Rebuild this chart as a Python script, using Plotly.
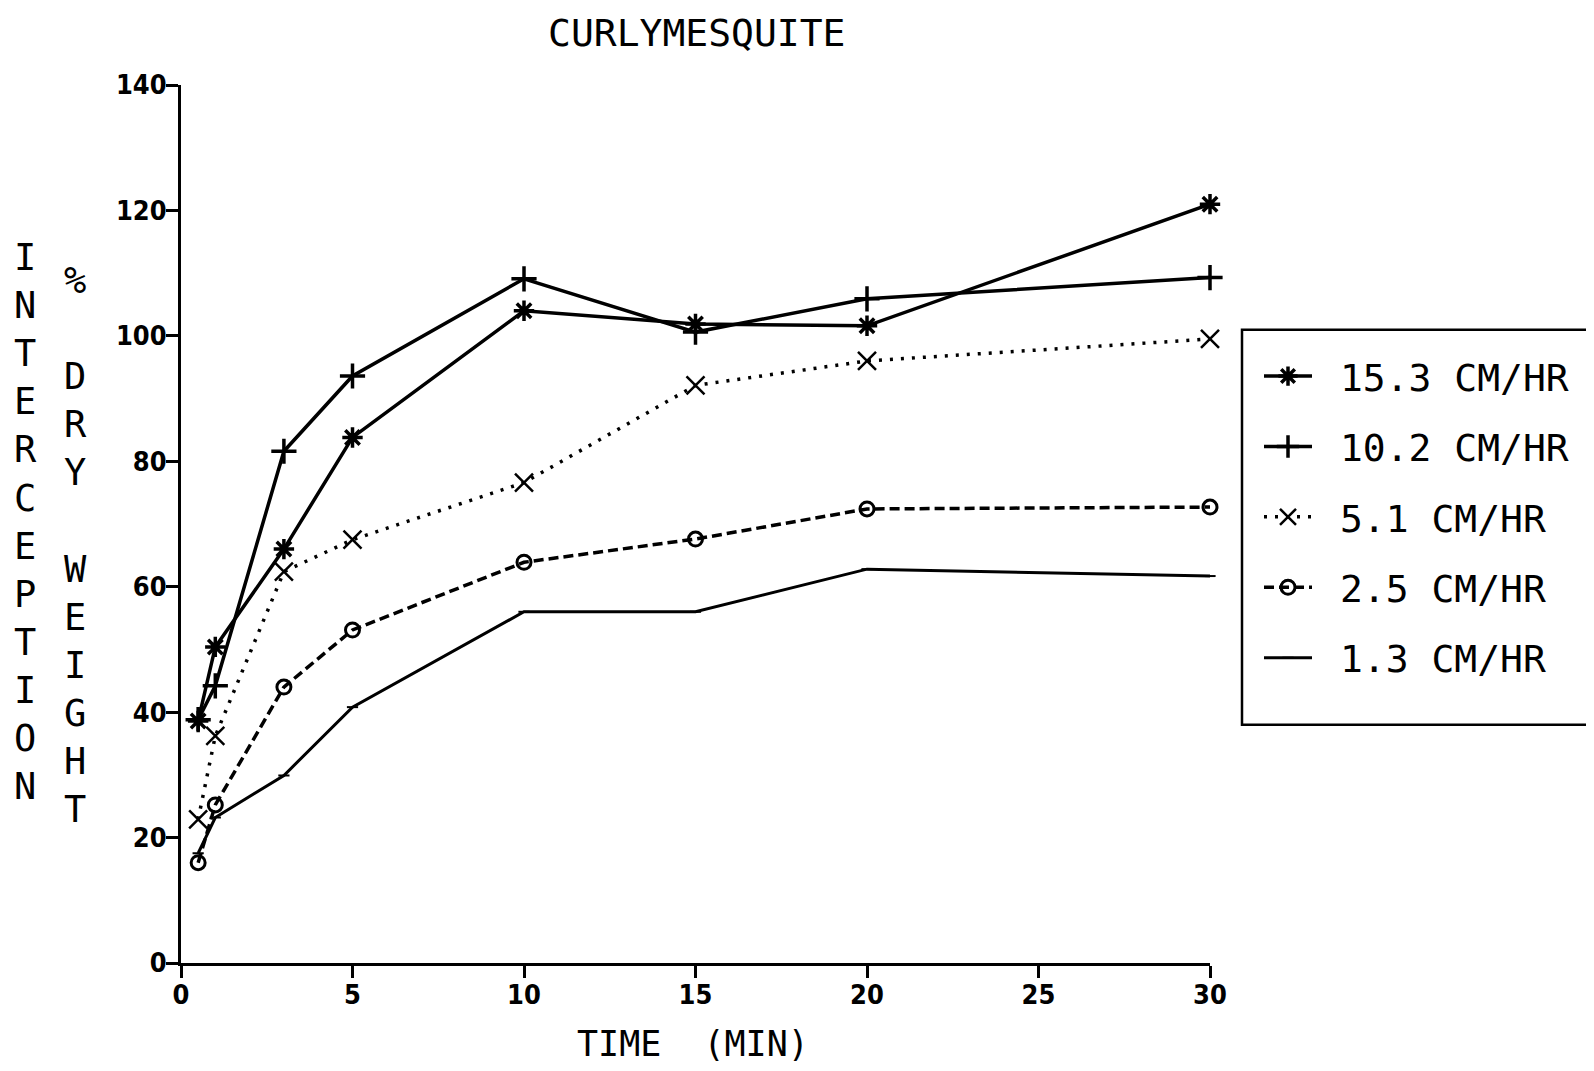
import plotly.graph_objects as go

# ---------------- data ----------------
time_min = [0.5, 1, 3, 5, 10, 15, 20, 30]
rate_labels = ["15.3 CM/HR", "10.2 CM/HR", "5.1 CM/HR", "2.5 CM/HR", "1.3 CM/HR"]
r15_3 = [38.6, 50.4, 66.0, 83.8, 104.0, 101.9, 101.6, 121.0]
r10_2 = [38.8, 44.2, 81.6, 93.6, 109.1, 100.6, 105.9, 109.3]
r5_1 = [22.9, 36.2, 62.4, 67.5, 76.6, 92.1, 96.0, 99.5]
r2_5 = [16.0, 25.2, 44.0, 53.1, 63.9, 67.6, 72.4, 72.7]
r1_3 = [17.5, 23.2, 29.9, 40.8, 56.0, 56.0, 62.8, 61.7]
x_ticks = [0, 5, 10, 15, 20, 25, 30]
y_ticks = [0, 20, 40, 60, 80, 100, 120, 140]

# ---------------- layout geometry (page pixels) ----------------
W, H = 1594, 1071
OFF = 8  # default page body margin
PL, PR, PT, PB = 181, 1210, 85, 963.5  # plot area in page pixels
L, R, T, B = PL - OFF, PR - OFF, PT - OFF, PB - OFF


def px_x(p):
    return (p - PL) / (PR - PL)


def px_y(p):
    return (PB - p) / (PB - PT)


MONO = "DejaVu Sans Mono"
TICKF = "Liberation Sans Narrow, DejaVu Sans Condensed, DejaVu Sans Mono"

series = [
    (r15_3, dict(dash="solid", width=3.5), dict(symbol="asterisk-open", size=17, line=dict(width=3.5, color="black"))),
    (r10_2, dict(dash="solid", width=3.5), dict(symbol="cross-thin-open", size=18, line=dict(width=3.5, color="black"))),
    (r5_1, dict(dash="3px,8px", width=3.5), dict(symbol="x-thin-open", size=18, line=dict(width=2.5, color="black"))),
    (r2_5, dict(dash="10px,5px", width=3.5), dict(symbol="circle-open", size=14, line=dict(width=3, color="black"))),
    (r1_3, dict(dash="solid", width=3), dict(symbol="line-ew-open", size=8, line=dict(width=2, color="black"))),
]

fig = go.Figure()
for i, (vals, ln, mk) in enumerate(series):
    ln["color"] = "black"
    mk["color"] = "black"
    fig.add_trace(go.Scatter(
        x=time_min, y=vals, name="\u00a0" + rate_labels[i], mode="lines+markers",
        line=ln, marker=mk, cliponaxis=False, legendgroup=f"g{i}",
    ))

fig.update_layout(
    width=W, height=H,
    margin=dict(l=L, r=W - R, t=T, b=H - B, autoexpand=False),
    paper_bgcolor="white", plot_bgcolor="white",
    showlegend=True,
    legend=dict(
        x=px_x(1259), y=px_y(345), xanchor="left", yanchor="top",
        font=dict(family=MONO, size=38, color="black"),
        bgcolor="rgba(0,0,0,0)", borderwidth=0,
        tracegroupgap=18, itemwidth=48,
    ),
    xaxis=dict(
        range=[0, 30], tickvals=x_ticks, ticktext=[str(v) for v in x_ticks],
        ticks="outside", ticklen=12, tickwidth=3, tickcolor="black",
        showline=True, linewidth=3, linecolor="black",
        showgrid=False, zeroline=False, ticklabelstandoff=-6,
        tickfont=dict(family=TICKF, size=27, color="black", weight="bold"),
    ),
    yaxis=dict(
        range=[0, 140], tickvals=y_ticks, ticktext=[str(v) for v in y_ticks],
        ticks="outside", ticklen=12, tickwidth=3, tickcolor="black",
        showline=True, linewidth=3, linecolor="black",
        showgrid=False, zeroline=False, ticklabelstandoff=-6,
        tickfont=dict(family=TICKF, size=27, color="black", weight="bold"),
    ),
    shapes=[dict(
        type="rect", xref="paper", yref="paper",
        x0=px_x(1242), x1=px_x(1620), y0=px_y(725), y1=px_y(330),
        line=dict(color="black", width=2.5), fillcolor="rgba(0,0,0,0)",
    )],
)

annotations = [
    dict(text="CURLYMESQUITE", x=px_x(696), y=px_y(33), xref="paper", yref="paper",
         xanchor="center", yanchor="middle", showarrow=False,
         font=dict(family=MONO, size=38, color="black")),
    dict(text="TIME  (MIN)", x=px_x(693), y=px_y(1045), xref="paper", yref="paper",
         xanchor="center", yanchor="middle", showarrow=False,
         font=dict(family=MONO, size=35, color="black")),
    dict(text="<br>".join(list("INTERCEPTION")), x=px_x(25), y=px_y(522),
         xref="paper", yref="paper", xanchor="center", yanchor="middle",
         showarrow=False, align="center",
         font=dict(family=MONO, size=37, color="black")),
    dict(text="<br>".join(["%", "\u00a0", "D", "R", "Y", "\u00a0", "W", "E", "I", "G", "H", "T"]),
         x=px_x(75), y=px_y(545), xref="paper", yref="paper",
         xanchor="center", yanchor="middle", showarrow=False, align="center",
         font=dict(family=MONO, size=37, color="black")),
]
fig.update_layout(annotations=annotations)

fig.write_html("out.html")
